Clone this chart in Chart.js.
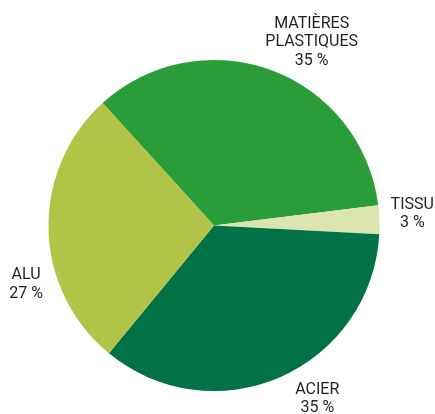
<!DOCTYPE html>
<html>
<head>
<meta charset="utf-8">
<script src="https://cdn.jsdelivr.net/npm/chart.js@4"></script>
<style>
  html, body { margin: 0; padding: 0; background: #fff; }
  #wrap { width: 435px; height: 414px; }
</style>
</head>
<body>
<div id="wrap"><canvas id="pie_chart_area" width="435" height="414"></canvas></div>
<script>
"use strict"
// values (shares in %)
var categories = [["MATIÈRES", "PLASTIQUES"], ["TISSU"], ["ACIER"], ["ALU"]];
var shares = [34.8, 2.8, 35.1, 27.3];
var shareLabels = ["35 %", "3 %", "35 %", "27 %"];
var sliceColors = ["#2a9d39", "#dce4b0", "#017246", "#b2c448"];

// nudges for the outside labels: angle shift (deg) and distance factor
var labelAngleShift = [7.7, -1.4, -7, -16];
var labelDistance = [1.255, 1.2, 1.22, 1.19];

var outsideLabels = {
    id: 'outsideLabels',
    afterDraw: function(chart){
        var ctx = chart.ctx;
        var arcs = chart.getDatasetMeta(0).data;
        ctx.save();
        ctx.fillStyle = "#231f20";
        ctx.font = "16px Roboto";
        ctx.textAlign = "center";
        ctx.textBaseline = "middle";
        arcs.forEach(function(arc, i){
            var p = arc.getProps(['x', 'y', 'startAngle', 'endAngle', 'outerRadius'], true);
            var mid = (p.startAngle + p.endAngle) / 2 + labelAngleShift[i] * Math.PI / 180;
            var d = p.outerRadius * labelDistance[i];
            var cx = p.x + Math.cos(mid) * d;
            var cy = p.y + Math.sin(mid) * d;
            var lines = categories[i].concat([shareLabels[i]]);
            var lh = 18.5;
            var top = cy - (lines.length - 1) * lh / 2;
            lines.forEach(function(t, j){
                ctx.fillText(t, cx, top + j * lh);
            });
        });
        ctx.restore();
    }
};

var pieChartArea = document.getElementById("pie_chart_area");
var pieChart = new Chart(pieChartArea, {
    type: 'pie',
    data: {
        labels: categories.map(function(c){ return c.join(" "); }),
        datasets: [
            {
                data: shares,
                backgroundColor: sliceColors,
                borderWidth: 0
            }
        ]
    },
    options: {
        responsive: false,
        animation: false,
        rotation: -42.3,
        layout: {
            padding: { left: 48, right: 55, top: 60, bottom: 23 }
        },
        plugins: {
            legend: { display: false },
            tooltip: { enabled: false }
        }
    },
    plugins: [outsideLabels]
});
</script>
</body>
</html>
